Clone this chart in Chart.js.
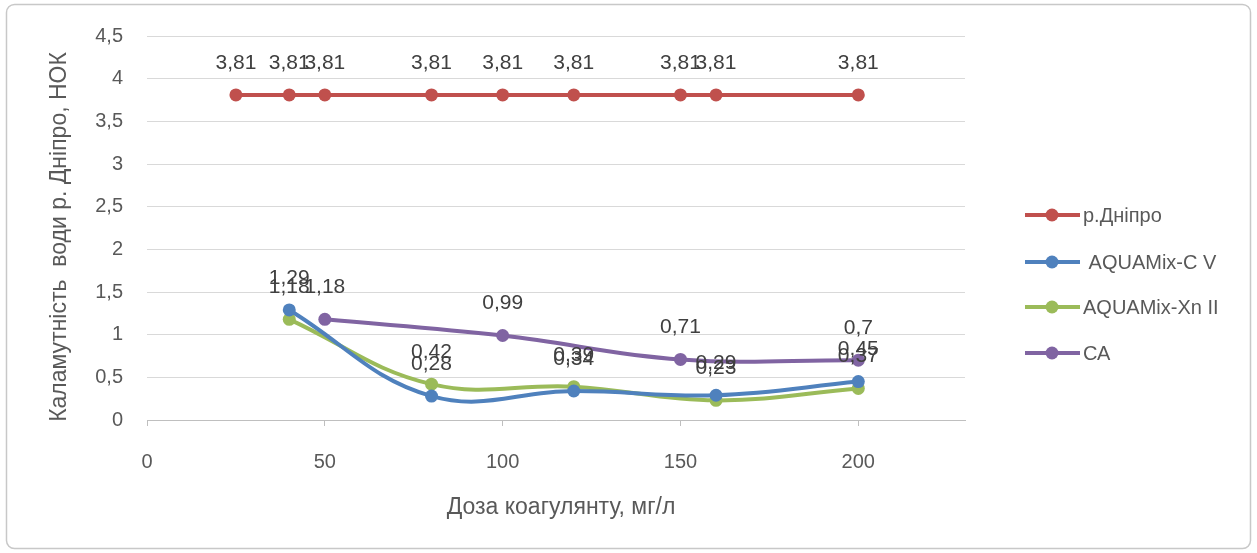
<!DOCTYPE html>
<html>
<head>
<meta charset="utf-8">
<script src="https://cdn.jsdelivr.net/npm/chart.js@4"></script>
<style>
  html, body { margin: 0; padding: 0; background: #fff; }
  #wrap { width: 1257px; height: 553px; }
</style>
</head>
<body>
<div id="wrap"><canvas id="chart" width="1257" height="553"></canvas></div>
<script>
// Turbidity of Dnipro water vs coagulant dose
const doseRiver = [25, 40, 50, 80, 100, 120, 150, 160, 200];
const turbRiver = [3.81, 3.81, 3.81, 3.81, 3.81, 3.81, 3.81, 3.81, 3.81];

const doseCV = [40, 80, 120, 160, 200];
const turbCV = [1.29, 0.28, 0.34, 0.29, 0.45];

const doseXn = [40, 80, 120, 160, 200];
const turbXn = [1.18, 0.42, 0.39, 0.23, 0.37];

const doseCA = [50, 100, 150, 200];
const turbCA = [1.18, 0.99, 0.71, 0.7];

const xTicks = [0, 50, 100, 150, 200];
const yTicks = [0, 0.5, 1, 1.5, 2, 2.5, 3, 3.5, 4, 4.5];

const FONT = "'Liberation Sans', Arial, sans-serif";

function pts(xs, ys) {
    return xs.map((x, i) => ({ x: x, y: ys[i] }));
}

function fmt(v) {
    return String(v).replace('.', ',');
}

function series(label, xs, ys, color, tension) {
    return {
        label: label,
        data: pts(xs, ys),
        borderColor: color,
        backgroundColor: color,
        borderWidth: 4,
        pointRadius: 6.5,
        pointHoverRadius: 6.5,
        pointBorderWidth: 0,
        tension: tension,
        fill: false
    };
}

// value labels above each point
const valueLabels = {
    id: 'valueLabels',
    afterDatasetsDraw(chart) {
        const ctx = chart.ctx;
        ctx.save();
        ctx.font = '21px ' + FONT;
        ctx.fillStyle = '#404040';
        ctx.textAlign = 'center';
        ctx.textBaseline = 'middle';
        chart.data.datasets.forEach((ds, i) => {
            chart.getDatasetMeta(i).data.forEach((el, j) => {
                ctx.fillText(fmt(ds.data[j].y), el.x, el.y - 32);
            });
        });
        ctx.restore();
    }
};

// frame, axis titles and legend
const decorations = {
    id: 'decorations',
    beforeDraw(chart) {
        const ctx = chart.ctx;
        ctx.save();
        ctx.fillStyle = '#fff';
        ctx.fillRect(0, 0, chart.width, chart.height);
        ctx.restore();
    },
    afterDraw(chart) {
        const ctx = chart.ctx;
        ctx.save();
        ctx.strokeStyle = '#c8c8c8';
        ctx.lineWidth = 1.5;
        ctx.beginPath();
        ctx.roundRect(6.5, 4.5, 1244, 544, 8);
        ctx.stroke();

        ctx.fillStyle = '#595959';
        ctx.font = '23px ' + FONT;
        ctx.textAlign = 'center';
        ctx.textBaseline = 'middle';
        ctx.fillText('Доза коагулянту, мг/л', 561, 508);

        ctx.save();
        ctx.translate(60, 237);
        ctx.rotate(-Math.PI / 2);
        ctx.fillText('Каламутність  води р. Дніпро, НОК', 0, 0);
        ctx.restore();

        const rows = [215, 262, 307, 353];
        ctx.font = '20px ' + FONT;
        ctx.textAlign = 'left';
        chart.data.datasets.forEach((ds, i) => {
            const y = rows[i];
            ctx.strokeStyle = ds.borderColor;
            ctx.lineWidth = 4;
            ctx.beginPath();
            ctx.moveTo(1025, y);
            ctx.lineTo(1080, y);
            ctx.stroke();
            ctx.fillStyle = ds.borderColor;
            ctx.beginPath();
            ctx.arc(1052, y, 6.5, 0, Math.PI * 2);
            ctx.fill();
            ctx.fillStyle = '#595959';
            ctx.fillText(ds.label, 1083, y + 1);
        });
        ctx.restore();
    }
};

new Chart(document.getElementById('chart'), {
    type: 'line',
    data: {
        datasets: [
            series('р.Дніпро', doseRiver, turbRiver, '#C0504D', 0),
            series(' AQUAMix-C V', doseCV, turbCV, '#4F81BD', 0.4),
            series('AQUAMix-Xn II', doseXn, turbXn, '#9BBB59', 0.4),
            series('СА', doseCA, turbCA, '#8064A2', 0.4)
        ]
    },
    options: {
        responsive: false,
        animation: false,
        layout: { padding: { top: 36, right: 292, left: 0, bottom: 0 } },
        plugins: {
            legend: { display: false },
            tooltip: { enabled: false }
        },
        scales: {
            x: {
                type: 'linear',
                min: 0,
                max: 230,
                afterFit: s => { s.height = 133; },
                afterBuildTicks: s => { s.ticks = xTicks.map(v => ({ value: v })); },
                grid: { drawOnChartArea: false, drawTicks: true, tickLength: 6, color: '#bfbfbf' },
                border: { display: true, color: '#bfbfbf' },
                ticks: {
                    padding: 24,
                    color: '#595959',
                    font: { family: FONT, size: 20 },
                    callback: v => fmt(v)
                }
            },
            y: {
                min: 0,
                max: 4.5,
                afterFit: s => { s.width = 147; },
                afterBuildTicks: s => { s.ticks = yTicks.map(v => ({ value: v })); },
                grid: { color: '#d9d9d9', drawTicks: false },
                border: { display: false },
                ticks: {
                    padding: 24,
                    color: '#595959',
                    font: { family: FONT, size: 20 },
                    callback: v => fmt(v)
                }
            }
        }
    },
    plugins: [decorations, valueLabels]
});
</script>
</body>
</html>
